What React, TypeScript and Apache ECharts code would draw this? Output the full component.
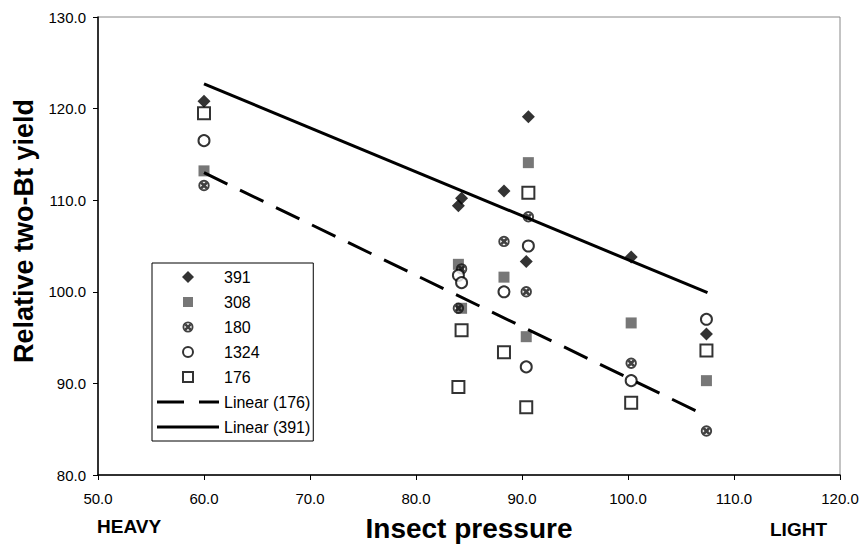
import React, { useEffect, useRef } from "react";
import * as echarts from "echarts";

// Insect pressure locations (x)
const pressure = [60.0, 84.0, 84.3, 88.3, 90.6, 90.4, 100.3, 107.4];
// Relative two-Bt yield by hybrid (y)
const y391 = [120.8, 109.4, 110.2, 111.0, 119.1, 103.3, 103.8, 95.4];
const y308 = [113.2, 103.0, 98.2, 101.6, 114.1, 95.1, 96.6, 90.3];
const y180 = [111.6, 98.2, 102.5, 105.5, 108.2, 100.0, 92.2, 84.8];
const y1324 = [116.5, 101.8, 101.0, 100.0, 105.0, 91.8, 90.3, 97.0];
const y176 = [119.5, 89.6, 95.8, 93.4, 110.8, 87.4, 87.9, 93.6];
// Trend line end points
const trendX = [60.0, 107.5];
const trend176 = [113.0, 86.4];
const trend391 = [122.7, 99.9];

const xTicks = { min: 50, max: 120, interval: 10 };
const yTicks = { min: 80, max: 130, interval: 10 };

const FONT = "'Liberation Sans', Arial, Helvetica, sans-serif";

// ---- symbol path helpers (shapes only) ----
function crossCircle(cx: number, cy: number, r: number) {
  const ri = r * 0.66;
  const b = r * 0.17; // half bar thickness along diagonal
  const d = ri * 0.72;
  const p = (x: number, y: number) => `${(cx + x).toFixed(2)},${(cy + y).toFixed(2)}`;
  return (
    `M${p(-r, 0)}A${r},${r},0,1,0,${p(r, 0)}A${r},${r},0,1,0,${p(-r, 0)}Z` +
    `M${p(-ri, 0)}A${ri},${ri},0,1,1,${p(ri, 0)}A${ri},${ri},0,1,1,${p(-ri, 0)}Z` +
    `M${p(-d - b, -d + b)}L${p(-d + b, -d - b)}L${p(d + b, d - b)}L${p(d - b, d + b)}Z` +
    `M${p(d - b, -d - b)}L${p(d + b, -d + b)}L${p(-d + b, d + b)}L${p(-d - b, d - b)}Z`
  );
}
const ANCHOR = "M0,0M62,12"; // legend icon box 62 x 12
const CROSS_CIRCLE = "path://M0,0M20,20" + crossCircle(10, 10, 9.5);

const legendIcons: Record<string, string> = {
  "391": "path://" + ANCHOR + "M31,0L37,6L31,12L25,6Z",
  "308": "path://" + ANCHOR + "M26,1L36,1L36,11L26,11Z",
  "180": "path://" + ANCHOR + crossCircle(31, 6, 5.5),
  "1324": "path://" + ANCHOR + "M26,6A5,5,0,1,0,36,6A5,5,0,1,0,26,6Z",
  "176": "path://" + ANCHOR + "M26,1L36,1L36,11L26,11Z",
  "Linear (176)": "path://" + ANCHOR + "M0,4.5L27,4.5L27,7.5L0,7.5ZM42,4.5L62,4.5L62,7.5L42,7.5Z",
  "Linear (391)": "path://" + ANCHOR + "M0,4.5L62,4.5L62,7.5L0,7.5Z",
};

const pairs = (xs: number[], ys: number[]) => xs.map((x, i) => [x, ys[i]]);

export default function App() {
  const ref = useRef<HTMLDivElement>(null);
  useEffect(() => {
    if (!ref.current) return;
    const chart = echarts.init(ref.current, null, { renderer: "svg" });
    const legendNames = ["391", "308", "180", "1324", "176", "Linear (176)", "Linear (391)"];
    chart.setOption({
      animation: false,
      backgroundColor: "#ffffff",
      textStyle: { fontFamily: FONT },
      grid: {
        left: 98,
        right: 22,
        top: 17,
        bottom: 70,
        show: true,
        borderColor: "#888",
        borderWidth: 1,
        outerBoundsMode: "none",
      },
      xAxis: {
        type: "value",
        min: xTicks.min,
        max: xTicks.max,
        interval: xTicks.interval,
        name: "Insect pressure",
        nameLocation: "middle",
        nameGap: 39,
        nameTextStyle: { fontSize: 28, fontWeight: "bold", color: "#000", fontFamily: FONT },
        axisLine: { lineStyle: { color: "#000", width: 1.5 } },
        axisTick: { show: true, length: 5, lineStyle: { color: "#000" } },
        axisLabel: {
          color: "#000",
          fontSize: 15,
          margin: 16,
          fontFamily: FONT,
          formatter: (v: number) => v.toFixed(1),
        },
        splitLine: { show: false },
      },
      yAxis: {
        type: "value",
        min: yTicks.min,
        max: yTicks.max,
        interval: yTicks.interval,
        name: "Relative two-Bt yield",
        nameLocation: "middle",
        nameGap: 61,
        nameTextStyle: {
          fontSize: 27,
          fontWeight: "bold",
          color: "#000",
          fontFamily: FONT,
          padding: [0, 0, 0, 30],
        },
        axisLine: { show: true, lineStyle: { color: "#000", width: 1.5 } },
        axisTick: { show: true, length: 5, lineStyle: { color: "#000" } },
        axisLabel: {
          color: "#000",
          fontSize: 15,
          margin: 12,
          fontFamily: FONT,
          formatter: (v: number) => v.toFixed(1),
        },
        splitLine: { show: false },
      },
      legend: {
        orient: "vertical",
        left: 152,
        top: 263,
        padding: [6, 3, 6, 4],
        itemWidth: 62,
        itemHeight: 12,
        itemGap: 9,
        symbolKeepAspect: true,
        borderColor: "#000",
        borderWidth: 1,
        backgroundColor: "#fff",
        textStyle: { fontSize: 16, color: "#000", fontFamily: FONT },
        data: legendNames.map((n) => ({ name: n, icon: legendIcons[n] })),
      },
      graphic: [
        {
          type: "text",
          left: 97,
          top: 517,
          style: { text: "HEAVY", fontSize: 19, fontWeight: "bold", fill: "#000", fontFamily: FONT },
        },
        {
          type: "text",
          left: 770,
          top: 520,
          style: { text: "LIGHT", fontSize: 19, fontWeight: "bold", fill: "#000", fontFamily: FONT },
        },
      ],
      series: [
        {
          name: "391",
          type: "scatter",
          symbol: "diamond",
          symbolSize: 13,
          itemStyle: { color: "#000" },
          data: pairs(pressure, y391),
        },
        {
          name: "308",
          type: "scatter",
          symbol: "rect",
          symbolSize: 11,
          itemStyle: { color: "#555" },
          data: pairs(pressure, y308),
        },
        {
          name: "180",
          type: "scatter",
          symbol: CROSS_CIRCLE,
          symbolSize: 12,
          itemStyle: { color: "#111" },
          data: pairs(pressure, y180),
        },
        {
          name: "1324",
          type: "scatter",
          symbol: "circle",
          symbolSize: 11,
          itemStyle: { color: "#fff", borderColor: "#000", borderWidth: 2 },
          data: pairs(pressure, y1324),
        },
        {
          name: "176",
          type: "scatter",
          symbol: "rect",
          symbolSize: 12,
          itemStyle: { color: "#fff", borderColor: "#000", borderWidth: 2 },
          data: pairs(pressure, y176),
        },
        {
          name: "Linear (176)",
          type: "line",
          symbol: "none",
          lineStyle: { color: "#000", width: 3, type: [26, 14] },
          itemStyle: { color: "#000" },
          data: pairs(trendX, trend176),
        },
        {
          name: "Linear (391)",
          type: "line",
          symbol: "none",
          lineStyle: { color: "#000", width: 3 },
          itemStyle: { color: "#000" },
          data: pairs(trendX, trend391),
        },
      ],
    });
    return () => chart.dispose();
  }, []);
  return (
    <div
      ref={ref}
      style={{ position: "fixed", left: 0, top: 0, width: 862, height: 545 }}
    />
  );
}
